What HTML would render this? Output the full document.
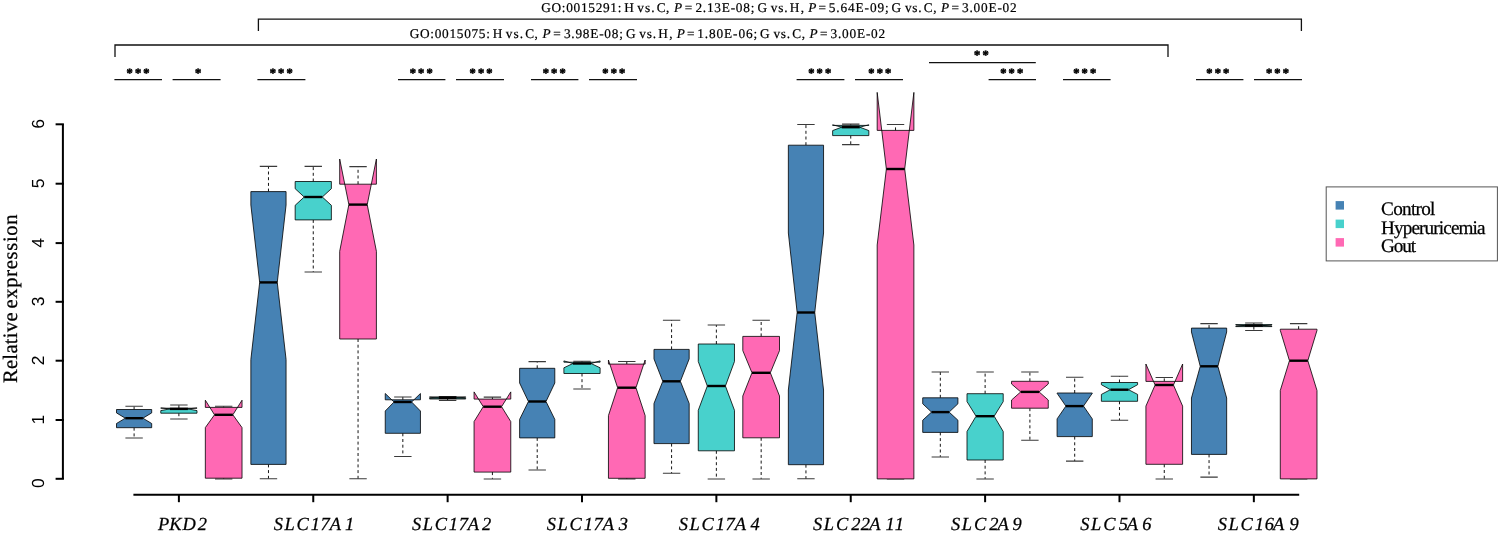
<!DOCTYPE html>
<html lang="en"><head><meta charset="utf-8"><title>Relative expression boxplot</title>
<style>html,body{margin:0;padding:0;background:#fff}body{width:1500px;height:534px;overflow:hidden}svg{display:block}</style>
</head><body>
<svg width="1500" height="534" viewBox="0 0 1500 534" text-rendering="geometricPrecision">
<rect width="1500" height="534" fill="#fff"/>
<g id="boxes" stroke="#000" stroke-linejoin="miter">
<g stroke="#151515" stroke-width="1" fill="none">
<path d="M134.1 409.5V406.3" stroke-dasharray="3 2.7"/>
<path d="M134.1 427.7V438" stroke-dasharray="3 2.7"/>
<path d="M125.4 406.3H142.8M125.4 438H142.8" stroke="#3a3a3a" stroke-width="1.05"/>
</g>
<path d="M116.5 427.7L116.5 423.5L125.3 418.2L116.5 412.9L116.5 409.5L151.7 409.5L151.7 412.9L142.9 418.2L151.7 423.5L151.7 427.7Z" fill="#4682B4" stroke-width="0.8"/>
<path d="M125.3 418.2H142.9" stroke-width="2.4" fill="none"/>
<g stroke="#151515" stroke-width="1" fill="none">
<path d="M178.89 408.2V405" stroke-dasharray="3 2.7"/>
<path d="M178.89 413.2V419" stroke-dasharray="3 2.7"/>
<path d="M170.19 405H187.59M170.19 419H187.59" stroke="#3a3a3a" stroke-width="1.05"/>
</g>
<path d="M160.79 413.2L160.79 410.6L169.84 408.9L160.79 407.9L160.79 408.2L196.99 408.2L196.99 407.9L187.94 408.9L196.99 410.6L196.99 413.2Z" fill="#48D1CC" stroke-width="0.8"/>
<path d="M169.84 408.9H187.94" stroke-width="2.4" fill="none"/>
<g stroke="#151515" stroke-width="1" fill="none">
<path d="M223.68 407.4V406.3" stroke-dasharray="3 2.7"/>
<path d="M223.68 478.2V478.9" stroke-dasharray="3 2.7"/>
<path d="M214.98 406.3H232.38M214.98 478.9H232.38" stroke="#3a3a3a" stroke-width="1.05"/>
</g>
<path d="M205.33 478.2L205.33 427.6L214.5 414.8L205.33 400.2L205.33 407.4L242.03 407.4L242.03 400.2L232.86 414.8L242.03 427.6L242.03 478.2Z" fill="#FF69B4" stroke-width="0.8"/>
<path d="M214.5 414.8H232.86" stroke-width="2.4" fill="none"/>
<g stroke="#151515" stroke-width="1" fill="none">
<path d="M268.47 191.6V166.35" stroke-dasharray="3 2.7"/>
<path d="M268.47 464.4V478.7" stroke-dasharray="3 2.7"/>
<path d="M259.77 166.35H277.17M259.77 478.7H277.17" stroke="#3a3a3a" stroke-width="1.05"/>
</g>
<path d="M250.87 464.4L250.87 359.5L259.67 282.4L250.87 205L250.87 191.6L286.07 191.6L286.07 205L277.27 282.4L286.07 359.5L286.07 464.4Z" fill="#4682B4" stroke-width="0.8"/>
<path d="M259.67 282.4H277.27" stroke-width="2.4" fill="none"/>
<g stroke="#151515" stroke-width="1" fill="none">
<path d="M313.26 181.5V166.35" stroke-dasharray="3 2.7"/>
<path d="M313.26 219.9V272" stroke-dasharray="3 2.7"/>
<path d="M304.56 166.35H321.96M304.56 272H321.96" stroke="#3a3a3a" stroke-width="1.05"/>
</g>
<path d="M295.16 219.9L295.16 205.3L304.21 197L295.16 188.7L295.16 181.5L331.36 181.5L331.36 188.7L322.31 197L331.36 205.3L331.36 219.9Z" fill="#48D1CC" stroke-width="0.8"/>
<path d="M304.21 197H322.31" stroke-width="2.4" fill="none"/>
<g stroke="#151515" stroke-width="1" fill="none">
<path d="M358.05 184.2V166.6" stroke-dasharray="3 2.7"/>
<path d="M358.05 339V478.7" stroke-dasharray="3 2.7"/>
<path d="M349.35 166.6H366.75M349.35 478.7H366.75" stroke="#3a3a3a" stroke-width="1.05"/>
</g>
<path d="M339.7 339L339.7 251.3L348.87 204.6L339.7 159L339.7 184.2L376.4 184.2L376.4 159L367.22 204.6L376.4 251.3L376.4 339Z" fill="#FF69B4" stroke-width="0.8"/>
<path d="M348.87 204.6H367.22" stroke-width="2.4" fill="none"/>
<g stroke="#151515" stroke-width="1" fill="none">
<path d="M402.84 399.8V396.9" stroke-dasharray="3 2.7"/>
<path d="M402.84 433.3V456.4" stroke-dasharray="3 2.7"/>
<path d="M394.14 396.9H411.54M394.14 456.4H411.54" stroke="#3a3a3a" stroke-width="1.05"/>
</g>
<path d="M385.24 433.3L385.24 411L394.04 402L385.24 393.5L385.24 399.8L420.44 399.8L420.44 393.5L411.64 402L420.44 411L420.44 433.3Z" fill="#4682B4" stroke-width="0.8"/>
<path d="M394.04 402H411.64" stroke-width="2.4" fill="none"/>
<g stroke="#151515" stroke-width="1" fill="none">
<path d="M447.63 399V400.4" stroke-dasharray="3 2.7"/>
<path d="M438.93 396.4H456.33M438.93 400.4H456.33" stroke="#3a3a3a" stroke-width="1.05"/>
</g>
<path d="M429.53 399L429.53 398.5L438.58 397.9L429.53 397.3L429.53 396.9L465.73 396.9L465.73 397.3L456.68 397.9L465.73 398.5L465.73 399Z" fill="#48D1CC" stroke-width="0.8"/>
<path d="M438.58 397.9H456.68" stroke-width="2.4" fill="none"/>
<g stroke="#151515" stroke-width="1" fill="none">
<path d="M492.42 399.1V397.1" stroke-dasharray="3 2.7"/>
<path d="M492.42 472.1V478.9" stroke-dasharray="3 2.7"/>
<path d="M483.72 397.1H501.12M483.72 478.9H501.12" stroke="#3a3a3a" stroke-width="1.05"/>
</g>
<path d="M474.07 472.1L474.07 421.6L483.24 406.7L474.07 391.9L474.07 399.1L510.77 399.1L510.77 391.9L501.59 406.7L510.77 421.6L510.77 472.1Z" fill="#FF69B4" stroke-width="0.8"/>
<path d="M483.24 406.7H501.59" stroke-width="2.4" fill="none"/>
<g stroke="#151515" stroke-width="1" fill="none">
<path d="M537.21 368.3V361.6" stroke-dasharray="3 2.7"/>
<path d="M537.21 437.9V469.9" stroke-dasharray="3 2.7"/>
<path d="M528.51 361.6H545.91M528.51 469.9H545.91" stroke="#3a3a3a" stroke-width="1.05"/>
</g>
<path d="M519.61 437.9L519.61 419.4L528.41 401.5L519.61 383L519.61 368.3L554.81 368.3L554.81 383L546.01 401.5L554.81 419.4L554.81 437.9Z" fill="#4682B4" stroke-width="0.8"/>
<path d="M528.41 401.5H546.01" stroke-width="2.4" fill="none"/>
<g stroke="#151515" stroke-width="1" fill="none">
<path d="M582 362.2V361.3" stroke-dasharray="3 2.7"/>
<path d="M582 373.5V389" stroke-dasharray="3 2.7"/>
<path d="M573.3 361.3H590.7M573.3 389H590.7" stroke="#3a3a3a" stroke-width="1.05"/>
</g>
<path d="M563.9 373.5L563.9 367.8L572.95 363.5L563.9 360.9L563.9 362.2L600.1 362.2L600.1 360.9L591.05 363.5L600.1 367.8L600.1 373.5Z" fill="#48D1CC" stroke-width="0.8"/>
<path d="M572.95 363.5H591.05" stroke-width="2.4" fill="none"/>
<g stroke="#151515" stroke-width="1" fill="none">
<path d="M626.79 364.1V361.5" stroke-dasharray="3 2.7"/>
<path d="M626.79 478.3V478.9" stroke-dasharray="3 2.7"/>
<path d="M618.09 361.5H635.49M618.09 478.9H635.49" stroke="#3a3a3a" stroke-width="1.05"/>
</g>
<path d="M608.44 478.3L608.44 415.6L617.62 387.7L608.44 360L608.44 364.1L645.14 364.1L645.14 360L635.96 387.7L645.14 415.6L645.14 478.3Z" fill="#FF69B4" stroke-width="0.8"/>
<path d="M617.62 387.7H635.96" stroke-width="2.4" fill="none"/>
<g stroke="#151515" stroke-width="1" fill="none">
<path d="M671.58 349.4V320.2" stroke-dasharray="3 2.7"/>
<path d="M671.58 443.6V473.3" stroke-dasharray="3 2.7"/>
<path d="M662.88 320.2H680.28M662.88 473.3H680.28" stroke="#3a3a3a" stroke-width="1.05"/>
</g>
<path d="M653.98 443.6L653.98 403.5L662.78 381.3L653.98 358.9L653.98 349.4L689.18 349.4L689.18 358.9L680.38 381.3L689.18 403.5L689.18 443.6Z" fill="#4682B4" stroke-width="0.8"/>
<path d="M662.78 381.3H680.38" stroke-width="2.4" fill="none"/>
<g stroke="#151515" stroke-width="1" fill="none">
<path d="M716.37 344V325" stroke-dasharray="3 2.7"/>
<path d="M716.37 450.8V478.9" stroke-dasharray="3 2.7"/>
<path d="M707.67 325H725.07M707.67 478.9H725.07" stroke="#3a3a3a" stroke-width="1.05"/>
</g>
<path d="M698.27 450.8L698.27 410.3L707.32 386L698.27 361.5L698.27 344L734.47 344L734.47 361.5L725.42 386L734.47 410.3L734.47 450.8Z" fill="#48D1CC" stroke-width="0.8"/>
<path d="M707.32 386H725.42" stroke-width="2.4" fill="none"/>
<g stroke="#151515" stroke-width="1" fill="none">
<path d="M761.16 336.4V320.2" stroke-dasharray="3 2.7"/>
<path d="M761.16 437.8V478.9" stroke-dasharray="3 2.7"/>
<path d="M752.46 320.2H769.86M752.46 478.9H769.86" stroke="#3a3a3a" stroke-width="1.05"/>
</g>
<path d="M742.81 437.8L742.81 396L751.99 372.8L742.81 350.6L742.81 336.4L779.51 336.4L779.51 350.6L770.33 372.8L779.51 396L779.51 437.8Z" fill="#FF69B4" stroke-width="0.8"/>
<path d="M751.99 372.8H770.33" stroke-width="2.4" fill="none"/>
<g stroke="#151515" stroke-width="1" fill="none">
<path d="M805.95 145.2V124.5" stroke-dasharray="3 2.7"/>
<path d="M805.95 464.7V478.8" stroke-dasharray="3 2.7"/>
<path d="M797.25 124.5H814.65M797.25 478.8H814.65" stroke="#3a3a3a" stroke-width="1.05"/>
</g>
<path d="M788.35 464.7L788.35 390L797.15 312.5L788.35 233L788.35 145.2L823.55 145.2L823.55 233L814.75 312.5L823.55 390L823.55 464.7Z" fill="#4682B4" stroke-width="0.8"/>
<path d="M797.15 312.5H814.75" stroke-width="2.4" fill="none"/>
<g stroke="#151515" stroke-width="1" fill="none">
<path d="M850.74 125.4V124.1" stroke-dasharray="3 2.7"/>
<path d="M850.74 135.6V144.6" stroke-dasharray="3 2.7"/>
<path d="M842.04 124.1H859.44M842.04 144.6H859.44" stroke="#3a3a3a" stroke-width="1.05"/>
</g>
<path d="M832.64 135.6L832.64 130.6L841.69 127.2L832.64 124.8L832.64 125.4L868.84 125.4L868.84 124.8L859.79 127.2L868.84 130.6L868.84 135.6Z" fill="#48D1CC" stroke-width="0.8"/>
<path d="M841.69 127.2H859.79" stroke-width="2.4" fill="none"/>
<g stroke="#151515" stroke-width="1" fill="none">
<path d="M895.53 130.4V124.5" stroke-dasharray="3 2.7"/>
<path d="M886.83 124.5H904.23M886.83 478.9H904.23" stroke="#3a3a3a" stroke-width="1.05"/>
</g>
<path d="M877.18 478.9L877.18 245L886.36 169L877.18 92.4L877.18 130.4L913.88 130.4L913.88 92.4L904.7 169L913.88 245L913.88 478.9Z" fill="#FF69B4" stroke-width="0.8"/>
<path d="M886.36 169H904.7" stroke-width="2.4" fill="none"/>
<g stroke="#151515" stroke-width="1" fill="none">
<path d="M940.32 397.8V371.9" stroke-dasharray="3 2.7"/>
<path d="M940.32 432.4V456.9" stroke-dasharray="3 2.7"/>
<path d="M931.62 371.9H949.02M931.62 456.9H949.02" stroke="#3a3a3a" stroke-width="1.05"/>
</g>
<path d="M922.72 432.4L922.72 420.2L931.52 412.1L922.72 403.8L922.72 397.8L957.92 397.8L957.92 403.8L949.12 412.1L957.92 420.2L957.92 432.4Z" fill="#4682B4" stroke-width="0.8"/>
<path d="M931.52 412.1H949.12" stroke-width="2.4" fill="none"/>
<g stroke="#151515" stroke-width="1" fill="none">
<path d="M985.11 393.7V371.9" stroke-dasharray="3 2.7"/>
<path d="M985.11 460V478.9" stroke-dasharray="3 2.7"/>
<path d="M976.41 371.9H993.81M976.41 478.9H993.81" stroke="#3a3a3a" stroke-width="1.05"/>
</g>
<path d="M967.01 460L967.01 431.5L976.06 416.2L967.01 401.6L967.01 393.7L1003.21 393.7L1003.21 401.6L994.16 416.2L1003.21 431.5L1003.21 460Z" fill="#48D1CC" stroke-width="0.8"/>
<path d="M976.06 416.2H994.16" stroke-width="2.4" fill="none"/>
<g stroke="#151515" stroke-width="1" fill="none">
<path d="M1029.9 381.3V371.9" stroke-dasharray="3 2.7"/>
<path d="M1029.9 408.2V440.2" stroke-dasharray="3 2.7"/>
<path d="M1021.2 371.9H1038.6M1021.2 440.2H1038.6" stroke="#3a3a3a" stroke-width="1.05"/>
</g>
<path d="M1011.55 408.2L1011.55 400L1020.72 391.9L1011.55 384L1011.55 381.3L1048.25 381.3L1048.25 384L1039.07 391.9L1048.25 400L1048.25 408.2Z" fill="#FF69B4" stroke-width="0.8"/>
<path d="M1020.72 391.9H1039.07" stroke-width="2.4" fill="none"/>
<g stroke="#151515" stroke-width="1" fill="none">
<path d="M1074.69 393V377.3" stroke-dasharray="3 2.7"/>
<path d="M1074.69 436.6V461.1" stroke-dasharray="3 2.7"/>
<path d="M1065.99 377.3H1083.39M1065.99 461.1H1083.39" stroke="#3a3a3a" stroke-width="1.05"/>
</g>
<path d="M1057.09 436.6L1057.09 418.9L1065.89 406.1L1057.09 393.3L1057.09 393L1092.29 393L1092.29 393.3L1083.49 406.1L1092.29 418.9L1092.29 436.6Z" fill="#4682B4" stroke-width="0.8"/>
<path d="M1065.89 406.1H1083.49" stroke-width="2.4" fill="none"/>
<g stroke="#151515" stroke-width="1" fill="none">
<path d="M1119.48 382.5V376.2" stroke-dasharray="3 2.7"/>
<path d="M1119.48 401.3V420.2" stroke-dasharray="3 2.7"/>
<path d="M1110.78 376.2H1128.18M1110.78 420.2H1128.18" stroke="#3a3a3a" stroke-width="1.05"/>
</g>
<path d="M1101.38 401.3L1101.38 394.4L1110.43 389.7L1101.38 384.7L1101.38 382.5L1137.58 382.5L1137.58 384.7L1128.53 389.7L1137.58 394.4L1137.58 401.3Z" fill="#48D1CC" stroke-width="0.8"/>
<path d="M1110.43 389.7H1128.53" stroke-width="2.4" fill="none"/>
<g stroke="#151515" stroke-width="1" fill="none">
<path d="M1164.27 381.4V377.5" stroke-dasharray="3 2.7"/>
<path d="M1164.27 464.3V478.9" stroke-dasharray="3 2.7"/>
<path d="M1155.57 377.5H1172.97M1155.57 478.9H1172.97" stroke="#3a3a3a" stroke-width="1.05"/>
</g>
<path d="M1145.92 464.3L1145.92 406.1L1155.1 385L1145.92 364L1145.92 381.4L1182.62 381.4L1182.62 364L1173.44 385L1182.62 406.1L1182.62 464.3Z" fill="#FF69B4" stroke-width="0.8"/>
<path d="M1155.1 385H1173.44" stroke-width="2.4" fill="none"/>
<g stroke="#151515" stroke-width="1" fill="none">
<path d="M1209.06 328.1V323.6" stroke-dasharray="3 2.7"/>
<path d="M1209.06 454.4V477.1" stroke-dasharray="3 2.7"/>
<path d="M1200.36 323.6H1217.76M1200.36 477.1H1217.76" stroke="#3a3a3a" stroke-width="1.05"/>
</g>
<path d="M1191.46 454.4L1191.46 398L1200.26 366.3L1191.46 332L1191.46 328.1L1226.66 328.1L1226.66 332L1217.86 366.3L1226.66 398L1226.66 454.4Z" fill="#4682B4" stroke-width="0.8"/>
<path d="M1200.26 366.3H1217.86" stroke-width="2.4" fill="none"/>
<g stroke="#151515" stroke-width="1" fill="none">
<path d="M1253.85 324.6V323" stroke-dasharray="3 2.7"/>
<path d="M1253.85 326.6V330.5" stroke-dasharray="3 2.7"/>
<path d="M1245.15 323H1262.55M1245.15 330.5H1262.55" stroke="#3a3a3a" stroke-width="1.05"/>
</g>
<path d="M1235.75 326.6L1235.75 326.2L1244.8 325.6L1235.75 325L1235.75 324.6L1271.95 324.6L1271.95 325L1262.9 325.6L1271.95 326.2L1271.95 326.6Z" fill="#48D1CC" stroke-width="0.8"/>
<path d="M1244.8 325.6H1262.9" stroke-width="2.4" fill="none"/>
<g stroke="#151515" stroke-width="1" fill="none">
<path d="M1298.64 329.2V323.6" stroke-dasharray="3 2.7"/>
<path d="M1289.94 323.6H1307.34M1289.94 478.9H1307.34" stroke="#3a3a3a" stroke-width="1.05"/>
</g>
<path d="M1280.29 478.9L1280.29 390.5L1289.46 360.7L1280.29 330.4L1280.29 329.2L1316.99 329.2L1316.99 330.4L1307.81 360.7L1316.99 390.5L1316.99 478.9Z" fill="#FF69B4" stroke-width="0.8"/>
<path d="M1289.46 360.7H1307.81" stroke-width="2.4" fill="none"/>
</g>
<g id="axes" stroke="#000" stroke-width="2" fill="none">
<path d="M62.9 124.3V478.9"/>
<path d="M55.6 478.8H63.9"/>
<path d="M55.6 420H63.9"/>
<path d="M55.6 360.7H63.9"/>
<path d="M55.6 301.8H63.9"/>
<path d="M55.6 243.1H63.9"/>
<path d="M55.6 183.7H63.9"/>
<path d="M55.6 124.3H63.9"/>
<path d="M133.4 494.7H1299.2"/>
<path d="M178.89 494.7V502.2"/>
<path d="M313.26 494.7V502.2"/>
<path d="M447.63 494.7V502.2"/>
<path d="M582 494.7V502.2"/>
<path d="M716.37 494.7V502.2"/>
<path d="M850.74 494.7V502.2"/>
<path d="M985.11 494.7V502.2"/>
<path d="M1119.48 494.7V502.2"/>
<path d="M1253.85 494.7V502.2"/>
</g>
<g id="ylabels" font-family="'Liberation Sans', sans-serif" font-size="17.5" fill="#000" text-anchor="middle">
<text transform="translate(44 483.2) rotate(-90)">0</text>
<text transform="translate(44 419.7) rotate(-90)">1</text>
<text transform="translate(44 360.4) rotate(-90)">2</text>
<text transform="translate(44 301.5) rotate(-90)">3</text>
<text transform="translate(44 242.8) rotate(-90)">4</text>
<text transform="translate(44 183.4) rotate(-90)">5</text>
<text transform="translate(44 124) rotate(-90)">6</text>
</g>
<g font-family="'Liberation Serif', serif" font-size="20.5" fill="#000" stroke="#000" stroke-width="0.25">
<text transform="translate(17.2 383.1) rotate(-90)" textLength="70.7" lengthAdjust="spacing">Relative</text>
<text transform="translate(17.2 308.6) rotate(-90)" textLength="94.2" lengthAdjust="spacing">expression</text>
</g>
<g id="xlabels" font-family="'Liberation Serif', serif" font-style="italic" font-size="18.4" fill="#000" stroke="#000" stroke-width="0.25">
<text x="158.12 169.33 182.46 197.83" y="530.4">PKD2</text>
<text x="273.67 284.38 296.42 310.79 320.5 329.75 345.12" y="530.4">SLC17A1</text>
<text x="412 422.71 434.75 448.79 458.67 467.75 482" y="530.4">SLC17A2</text>
<text x="546.67 557.54 569.42 583.79 593.5 602.75 618.75" y="530.4">SLC17A3</text>
<text x="678.67 689.38 701.42 715.79 725.5 734.75 750.5" y="530.4">SLC17A4</text>
<text x="813 823.71 835.92 851.17 860.83 869.25 885.46 894.79" y="530.4">SLC22A11</text>
<text x="951 961.71 973.92 989.17 997.42 1012.42" y="530.4">SLC2A9</text>
<text x="1080.33 1091.04 1103.25 1118.67 1126.75 1142.17" y="530.4">SLC5A6</text>
<text x="1217.67 1228.38 1240.42 1254.79 1264.83 1273.08 1289.42" y="530.4">SLC16A9</text>
</g>
<g id="brackets" stroke="#111" stroke-width="1.3" fill="none">
<path d="M258.4 30.9V19.2H1301.4V30.9"/>
<path d="M115 57V45H1168V57"/>
</g>
<g font-family="'Liberation Serif', serif" font-size="13.3" fill="#000" stroke="#000" stroke-width="0.2">
<text y="11.6"><tspan x="541.2" letter-spacing="0.71">GO:0015291:</tspan> <tspan x="624.15">H</tspan> <tspan x="637.2" letter-spacing="1.12">vs.</tspan> <tspan x="656.75" letter-spacing="0.5">C,</tspan> <tspan x="674.1" font-style="italic">P</tspan> <tspan x="684.7">=</tspan> <tspan x="695.45" letter-spacing="0.76">2.13E-08;</tspan> <tspan x="757.5">G</tspan> <tspan x="770.85" letter-spacing="0.85">vs.</tspan> <tspan x="789.75" letter-spacing="1.3">H,</tspan> <tspan x="808.2" font-style="italic">P</tspan> <tspan x="818.6">=</tspan> <tspan x="828.8" letter-spacing="0.88">5.64E-09;</tspan> <tspan x="891.4">G</tspan> <tspan x="905" letter-spacing="0.72">vs.</tspan> <tspan x="923.65" letter-spacing="0.75">C,</tspan> <tspan x="941" font-style="italic">P</tspan> <tspan x="951.4">=</tspan> <tspan x="961.95" letter-spacing="0.81">3.00E-02</tspan></text>
<text y="37.6"><tspan x="409.7" letter-spacing="0.71">GO:0015075:</tspan> <tspan x="492.65">H</tspan> <tspan x="505.7" letter-spacing="1.12">vs.</tspan> <tspan x="525.25" letter-spacing="0.5">C,</tspan> <tspan x="542.6" font-style="italic">P</tspan> <tspan x="553.2">=</tspan> <tspan x="563.95" letter-spacing="0.76">3.98E-08;</tspan> <tspan x="626">G</tspan> <tspan x="639.35" letter-spacing="0.85">vs.</tspan> <tspan x="658.25" letter-spacing="1.3">H,</tspan> <tspan x="676.7" font-style="italic">P</tspan> <tspan x="687.1">=</tspan> <tspan x="697.3" letter-spacing="0.88">1.80E-06;</tspan> <tspan x="759.9">G</tspan> <tspan x="773.5" letter-spacing="0.72">vs.</tspan> <tspan x="792.15" letter-spacing="0.75">C,</tspan> <tspan x="809.5" font-style="italic">P</tspan> <tspan x="819.9">=</tspan> <tspan x="830.45" letter-spacing="0.81">3.00E-02</tspan></text>
</g>
<g id="sig" stroke="#111" stroke-width="1.25" fill="none">
<path d="M114.4 79.7H162"/>
<path d="M172.6 79.7H220.6"/>
<path d="M257.4 79.7H305.4"/>
<path d="M398 79.7H445.4"/>
<path d="M456 79.7H504"/>
<path d="M531 79.7H578.4"/>
<path d="M589 79.7H637"/>
<path d="M796.6 79.7H844.4"/>
<path d="M855 79.7H903"/>
<path d="M988.6 79.7H1036"/>
<path d="M1063 79.7H1110.6"/>
<path d="M1196 79.7H1243.4"/>
<path d="M1254 79.7H1302"/>
<path d="M929 62.5H1035.8"/>
</g>
<g id="stars" font-family="'Liberation Serif', serif" font-weight="bold" font-size="12.5" fill="#000" stroke="#000" stroke-width="0.55" text-anchor="middle">
<text x="129.6" y="77.1">*</text>
<text x="138" y="77.1">*</text>
<text x="146.4" y="77.1">*</text>
<text x="198.2" y="77.1">*</text>
<text x="272.8" y="77.1">*</text>
<text x="281.2" y="77.1">*</text>
<text x="289.6" y="77.1">*</text>
<text x="412.8" y="77.1">*</text>
<text x="421.2" y="77.1">*</text>
<text x="429.6" y="77.1">*</text>
<text x="472.6" y="77.1">*</text>
<text x="481" y="77.1">*</text>
<text x="489.4" y="77.1">*</text>
<text x="545.8" y="77.1">*</text>
<text x="554.2" y="77.1">*</text>
<text x="562.6" y="77.1">*</text>
<text x="605.4" y="77.1">*</text>
<text x="613.8" y="77.1">*</text>
<text x="622.2" y="77.1">*</text>
<text x="811.3" y="77.1">*</text>
<text x="819.7" y="77.1">*</text>
<text x="828.1" y="77.1">*</text>
<text x="871.4" y="77.1">*</text>
<text x="879.8" y="77.1">*</text>
<text x="888.2" y="77.1">*</text>
<text x="1003.3" y="77.1">*</text>
<text x="1011.7" y="77.1">*</text>
<text x="1020.1" y="77.1">*</text>
<text x="1076.3" y="77.1">*</text>
<text x="1084.7" y="77.1">*</text>
<text x="1093.1" y="77.1">*</text>
<text x="1209.4" y="77.1">*</text>
<text x="1217.8" y="77.1">*</text>
<text x="1226.2" y="77.1">*</text>
<text x="1269" y="77.1">*</text>
<text x="1277.4" y="77.1">*</text>
<text x="1285.8" y="77.1">*</text>
<text x="977.2" y="58.7">*</text>
<text x="985.6" y="58.7">*</text>
</g>
<rect x="1326.2" y="186.9" width="171.2" height="74" fill="#fff" stroke="#555" stroke-width="1"/>
<rect x="1335.6" y="201.1" width="8.4" height="8.5" fill="#4682B4"/>
<text x="1381.1" y="215.4" font-family="'Liberation Serif', serif" font-size="19.2" textLength="54.3" lengthAdjust="spacing" fill="#000" stroke="#000" stroke-width="0.25">Control</text>
<rect x="1335.6" y="219.6" width="8.4" height="8.5" fill="#48D1CC"/>
<text x="1381.1" y="233.5" font-family="'Liberation Serif', serif" font-size="19.2" textLength="104.5" lengthAdjust="spacing" fill="#000" stroke="#000" stroke-width="0.25">Hyperuricemia</text>
<rect x="1335.6" y="238.1" width="8.4" height="8.5" fill="#FF69B4"/>
<text x="1381.1" y="251.6" font-family="'Liberation Serif', serif" font-size="19.2" textLength="35.1" lengthAdjust="spacing" fill="#000" stroke="#000" stroke-width="0.25">Gout</text>
</svg>
</body></html>
